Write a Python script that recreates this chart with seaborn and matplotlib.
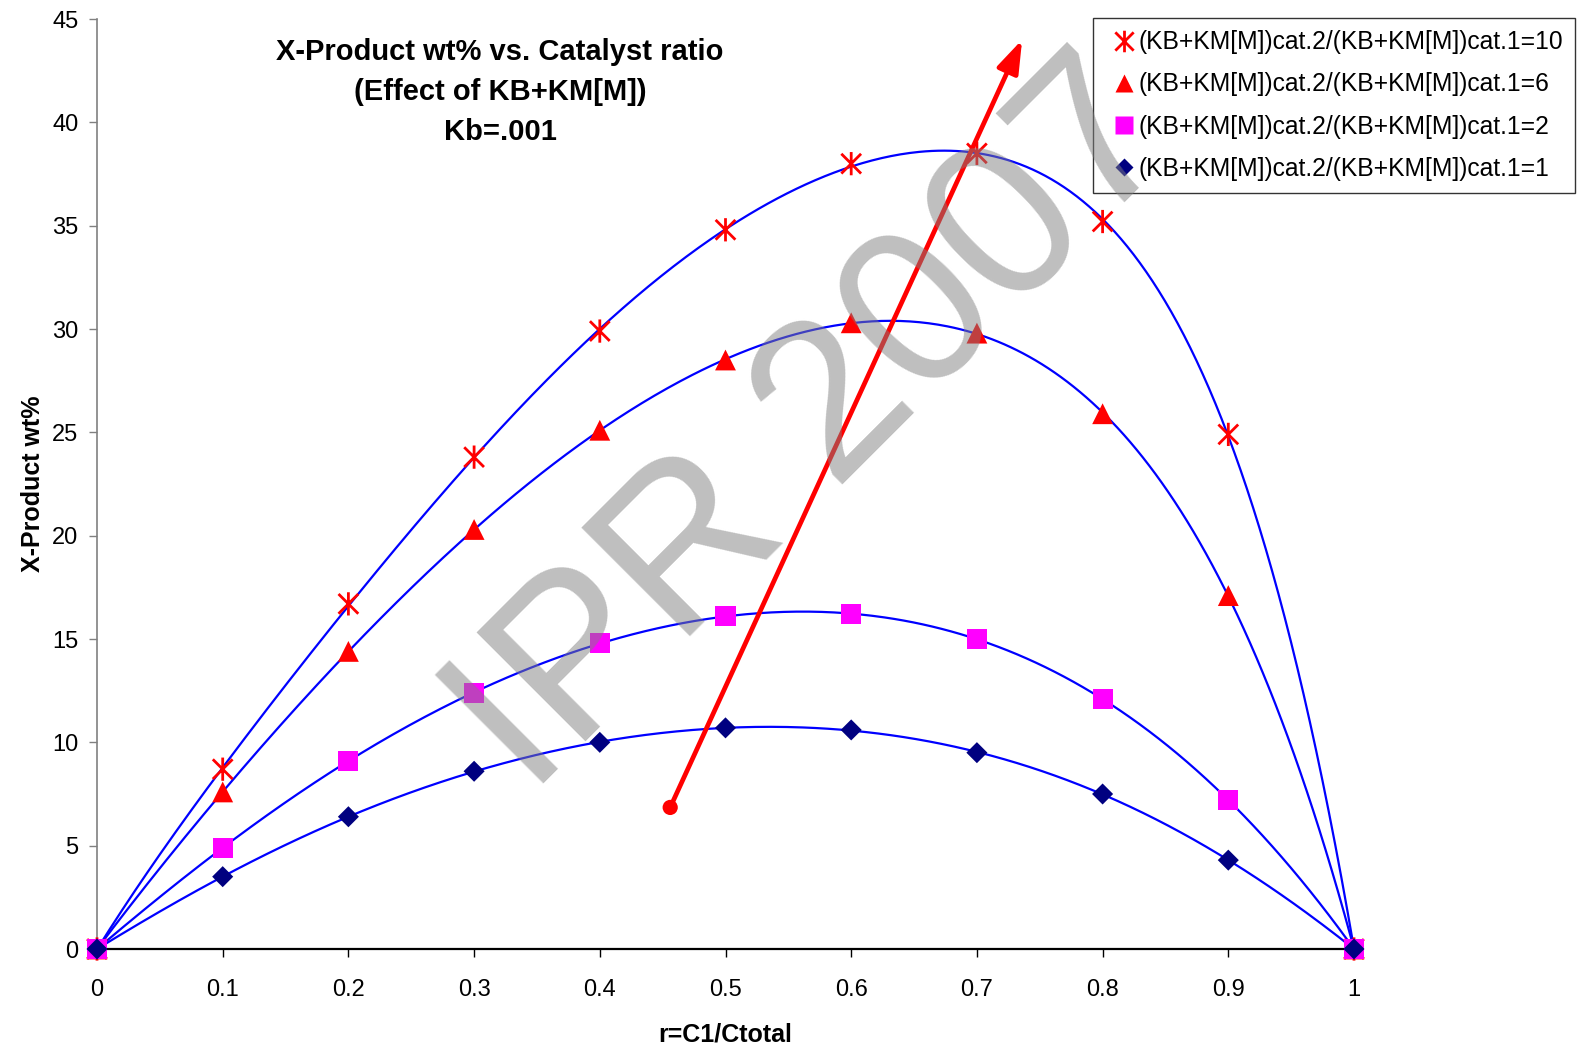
import numpy as np
import pandas as pd
import matplotlib
matplotlib.use("Agg")
import matplotlib.pyplot as plt
from matplotlib.path import Path
from matplotlib.lines import Line2D
import seaborn as sns

# ---------------- data ----------------
ratio = [0.0, 0.1, 0.2, 0.3, 0.4, 0.5, 0.6, 0.7, 0.8, 0.9, 1.0]
y_r10 = [0.0, 8.7, 16.7, 23.8, 29.9, 34.8, 38.0, 38.5, 35.2, 24.9, 0.0]
y_r6 = [0.0, 7.6, 14.4, 20.3, 25.1, 28.5, 30.3, 29.8, 25.9, 17.1, 0.0]
y_r2 = [0.0, 4.9, 9.1, 12.4, 14.8, 16.1, 16.2, 15.0, 12.1, 7.2, 0.0]
y_r1 = [0.0, 3.5, 6.4, 8.6, 10.0, 10.7, 10.6, 9.5, 7.5, 4.3, 0.0]
series_labels = [
    "(KB+KM[M])cat.2/(KB+KM[M])cat.1=10",
    "(KB+KM[M])cat.2/(KB+KM[M])cat.1=6",
    "(KB+KM[M])cat.2/(KB+KM[M])cat.1=2",
    "(KB+KM[M])cat.2/(KB+KM[M])cat.1=1",
]
x_ticks = [0, 0.1, 0.2, 0.3, 0.4, 0.5, 0.6, 0.7, 0.8, 0.9, 1]
x_tick_labels = ["0", "0.1", "0.2", "0.3", "0.4", "0.5", "0.6", "0.7", "0.8", "0.9", "1"]
y_ticks = [0, 5, 10, 15, 20, 25, 30, 35, 40, 45]
arrow_start = (0.456, 6.85)
arrow_end = (0.736, 44.0)
title_lines = ["X-Product wt% vs. Catalyst ratio", "(Effect of KB+KM[M])", "Kb=.001"]
x_label = "r=C1/Ctotal"
y_label = "X-Product wt%"
watermark = "IPR 2007"

# ---------------- style ----------------
sns.set_theme(style="white")
plt.rcParams["font.family"] = ["Liberation Sans", "DejaVu Sans"]
plt.rcParams["text.color"] = "black"
plt.rcParams["axes.labelcolor"] = "black"
plt.rcParams["xtick.color"] = "black"
plt.rcParams["ytick.color"] = "black"

W, H = 1583, 1046
fig = plt.figure(figsize=(W / 100, H / 100), dpi=100)
ax = fig.add_axes([97 / W, (H - 949) / H, (1354 - 97) / W, (949 - 19) / H])

star = Path(
    [(0, -1), (0, 1), (-0.85, -0.85), (0.85, 0.85), (-0.85, 0.85), (0.85, -0.85)],
    [Path.MOVETO, Path.LINETO, Path.MOVETO, Path.LINETO, Path.MOVETO, Path.LINETO],
)

# (values, marker, colour, scatter size, edge width, legend marker size)
specs = [
    (y_r10, star, "#FF0000", 280, 2.0, 15.5),
    (y_r6, "^", "#FF0000", 225, 0, 13.5),
    (y_r2, "s", "#FF00FF", 210, 0, 13.0),
    (y_r1, "D", "#000080", 115, 0, 9.5),
]

xs = np.linspace(0, 1, 400)
# polynomial trend lines (blue)
for yv, *_ in specs:
    coef = np.polyfit(ratio, yv, 6)
    df_t = pd.DataFrame({"x": xs, "y": np.polyval(coef, xs)})
    sns.lineplot(data=df_t, x="x", y="y", ax=ax, color="#0000FF", lw=1.6,
                 zorder=2, sort=False, legend=False)

handles = []
for (yv, mk, col, s, lw, lms), lab in zip(specs, series_labels):
    df = pd.DataFrame({"x": ratio, "y": yv})
    if lw > 0:
        sns.scatterplot(data=df, x="x", y="y", ax=ax, marker=mk, s=s,
                        facecolor="none", edgecolor=col, linewidth=lw,
                        zorder=3, clip_on=False, legend=False)
        handles.append(Line2D([], [], ls="none", marker=mk, markersize=lms,
                              markerfacecolor="none", markeredgecolor=col,
                              markeredgewidth=lw))
    else:
        sns.scatterplot(data=df, x="x", y="y", ax=ax, marker=mk, s=s,
                        color=col, edgecolor="none", linewidth=0,
                        zorder=3, clip_on=False, legend=False)
        handles.append(Line2D([], [], ls="none", marker=mk, markersize=lms,
                              markerfacecolor=col, markeredgecolor="none"))

# red arrow
sns.scatterplot(x=[arrow_start[0]], y=[arrow_start[1]], ax=ax, color="#FF0000",
                s=120, edgecolor="none", zorder=4, legend=False)
ax.annotate("", xy=arrow_end, xytext=arrow_start, zorder=4,
            arrowprops=dict(arrowstyle="-|>,head_length=1.0,head_width=0.34",
                            mutation_scale=20, color="#FF0000", lw=3.4,
                            shrinkA=0, shrinkB=0), annotation_clip=False)

ax.set_xlim(0, 1)
ax.set_ylim(0, 45)
ax.set_xticks(x_ticks)
ax.set_xticklabels(x_tick_labels)
ax.set_yticks(y_ticks)
for sp in ["top", "right"]:
    ax.spines[sp].set_visible(False)
ax.spines["left"].set_color("#808080")
ax.spines["left"].set_linewidth(1.2)
ax.spines["bottom"].set_color("#000000")
ax.spines["bottom"].set_linewidth(1.6)
ax.tick_params(axis="y", direction="out", length=5.8, width=1, color="#808080",
               pad=7.5, labelsize=17, labelcolor="black", left=True)
ax.tick_params(axis="x", direction="out", length=5.8, width=1, color="#000000",
               pad=16, labelsize=17, labelcolor="black", bottom=True)
ax.grid(False)

ax.set_xlabel(x_label, fontsize=18, fontweight="bold", color="black")
ax.set_ylabel(y_label, fontsize=18, fontweight="bold", color="black")
ax.xaxis.set_label_coords(0.5, (949 - 1022) / 930)
ax.yaxis.set_label_coords((45 - 97) / 1257, 0.5)

# title block
for line, yc in zip(title_lines, [52, 92.5, 132.5]):
    fig.text(500 / W, 1 - yc / H, line, ha="center", va="center",
             fontsize=21, fontweight="bold", color="black")

# legend
leg = ax.legend(handles, series_labels, loc="upper left",
                bbox_to_anchor=(1093 / W, 1 - 18 / H), bbox_transform=fig.transFigure,
                frameon=True, fancybox=False, shadow=False, fontsize=17.7,
                handlelength=1.5, handletextpad=-0.15, labelspacing=0.74,
                borderpad=0.5, borderaxespad=0)
leg.get_frame().set_edgecolor("black")
leg.get_frame().set_linewidth(1.0)
leg.get_frame().set_facecolor("white")
leg.set_zorder(6)
for t in leg.get_texts():
    t.set_color("black")

# watermark
fig.text(857 / W, 1 - 470 / H, watermark, ha="center", va="baseline",
         rotation=45, rotation_mode="anchor", fontsize=160,
         color="#808080", alpha=0.5, zorder=10)

fig.savefig("out.png", dpi=100)
